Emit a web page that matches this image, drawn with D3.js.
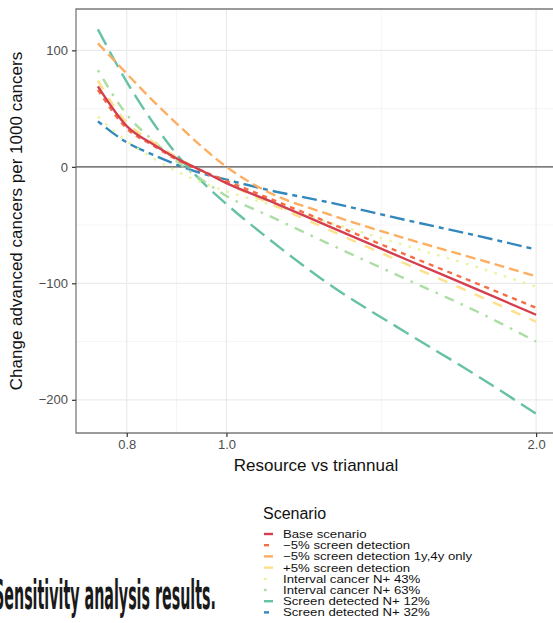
<!DOCTYPE html>
<html>
<head>
<meta charset="utf-8">
<script src="https://cdn.jsdelivr.net/npm/d3@7"></script>
<style>
  body { margin: 0; background: #fff; }
  text { font-family: 'Liberation Sans', Arial, sans-serif; }
</style>
</head>
<body>
<div id="chart"></div>
<script>
// Data (x on a log axis)
const resource = [0.75, 0.8, 0.85, 0.9, 0.95, 1.0, 1.1, 1.25, 1.5, 1.75, 2.0];

const baseScenario   = [69, 35, 19, 6, -4, -14, -29, -50, -80, -105, -127];
const minus5Screen   = [66, 33, 18, 5, -4, -12, -27, -47, -76, -100, -121];
const minus5Only1y4y = [106, 80, 56, 35, 16, 0, -22, -40, -62, -79, -94];
const plus5Screen    = [74, 38, 21, 7, -4, -14, -31, -53, -84, -110, -133];
const interval43     = [43, 22, 7, -5, -14, -21, -32, -47, -68, -86, -103];
const interval63     = [83, 45, 22, 3, -12, -25, -42, -65, -97, -124, -150];
const screen12       = [118, 73, 37, 8, -14, -32, -62, -99, -143, -179, -212];
const screen32       = [39, 21, 10, 1, -6, -11, -20, -30, -46, -59, -71];

const scenarioNames = [
  'Base scenario',
  '\u22125% screen detection',
  '\u22125% screen detection 1y,4y only',
  '+5% screen detection',
  'Interval cancer N+ 43%',
  'Interval cancer N+ 63%',
  'Screen detected N+ 12%',
  'Screen detected N+ 32%'
];
const scenarioValues = [baseScenario, minus5Screen, minus5Only1y4y, plus5Screen,
  interval43, interval63, screen12, screen32];

const xTicks = [0.8, 1.0, 2.0];
const xMinor = [Math.sqrt(0.8), Math.sqrt(2)];
const yTicks = [100, 0, -100, -200];
const yMinor = [50, -50, -150];

// Spectral palette + ggplot linetypes
const colors = ['#D53E4F', '#F46D43', '#FDAE61', '#FEE08B', '#E6F598', '#ABDDA4', '#66C2A5', '#3288BD'];
const linetypes = ['', '22', '42', '44', '13', '1343', '73', '2262'];

const width = 553;
const height = 623;
const lw = 2.4;
const unit = 2.5;
const dash = lt => lt === '' ? null : lt.split('').map(c => parseInt(c, 16) * unit).join(',');

const panel = { left: 76, right: 558, top: 9, bottom: 433 };

const svg = d3.select('#chart')
  .append('svg')
  .attr('width', width)
  .attr('height', height);

// log axis, expanded 5% on both sides like ggplot
const lo = Math.log2(0.75), hi = Math.log2(2.0);
const pad = 0.05 * (hi - lo);
const x = d3.scaleLog()
  .base(2)
  .domain([Math.pow(2, lo - pad), Math.pow(2, hi + pad)])
  .range([panel.left, panel.right]);

const y = d3.scaleLinear()
  .domain([-228.5, 135.5])
  .range([panel.bottom, panel.top]);

// grid
const grid = svg.append('g');
grid.selectAll('.xminor').data(xMinor).enter().append('line')
  .attr('x1', d => x(d)).attr('x2', d => x(d))
  .attr('y1', panel.top).attr('y2', panel.bottom)
  .attr('stroke', '#F3F3F3').attr('stroke-width', 0.8);
grid.selectAll('.yminor').data(yMinor).enter().append('line')
  .attr('x1', panel.left).attr('x2', panel.right)
  .attr('y1', d => y(d)).attr('y2', d => y(d))
  .attr('stroke', '#F3F3F3').attr('stroke-width', 0.8);
grid.selectAll('.xmajor').data(xTicks).enter().append('line')
  .attr('x1', d => x(d)).attr('x2', d => x(d))
  .attr('y1', panel.top).attr('y2', panel.bottom)
  .attr('stroke', '#EBEBEB').attr('stroke-width', 1.2);
grid.selectAll('.ymajor').data(yTicks).enter().append('line')
  .attr('x1', panel.left).attr('x2', panel.right)
  .attr('y1', d => y(d)).attr('y2', d => y(d))
  .attr('stroke', '#EBEBEB').attr('stroke-width', 1.2);

// zero line
svg.append('line')
  .attr('x1', panel.left).attr('x2', panel.right)
  .attr('y1', y(0)).attr('y2', y(0))
  .attr('stroke', '#555').attr('stroke-width', 1.1);

// curves
const line = d3.line()
  .x(d => x(d[0]))
  .y(d => y(d[1]))
  .curve(d3.curveMonotoneX);

svg.append('g')
  .selectAll('path')
  .data(scenarioValues.map((vals, i) => ({ i, pts: resource.map((r, j) => [r, vals[j]]) })).reverse())
  .enter()
  .append('path')
  .attr('d', d => line(d.pts))
  .attr('fill', 'none')
  .attr('stroke', d => colors[d.i])
  .attr('stroke-width', lw)
  .attr('stroke-dasharray', d => dash(linetypes[d.i]));

// panel border (top, left, bottom)
svg.append('path')
  .attr('d', `M${panel.right},${panel.top}H${panel.left}V${panel.bottom}H${panel.right}`)
  .attr('fill', 'none')
  .attr('stroke', '#7A7A7A')
  .attr('stroke-width', 1.3);

// axes
const yAxis = svg.append('g')
  .attr('transform', `translate(${panel.left},0)`)
  .call(d3.axisLeft(y).tickValues(yTicks).tickSize(4).tickPadding(4));
const xAxis = svg.append('g')
  .attr('transform', `translate(0,${panel.bottom})`)
  .call(d3.axisBottom(x).tickValues(xTicks).tickFormat(d3.format('.1f')).tickSize(4).tickPadding(3));
[yAxis, xAxis].forEach(a => {
  a.select('.domain').remove();
  a.selectAll('.tick line').attr('stroke', '#333').attr('stroke-width', 1.2);
  a.selectAll('.tick text')
    .attr('fill', '#4D4D4D')
    .style('font-size', '13px')
    .style('font-family', "'Liberation Sans', Arial, sans-serif");
});

// axis titles
svg.append('text')
  .attr('x', 316)
  .attr('y', 471)
  .attr('text-anchor', 'middle')
  .style('font-size', '17px')
  .attr('fill', '#111')
  .text('Resource vs triannual');

svg.append('text')
  .attr('transform', `translate(22,${(panel.top + panel.bottom) / 2}) rotate(-90)`)
  .attr('text-anchor', 'middle')
  .style('font-size', '17px')
  .attr('fill', '#111')
  .text('Change advanced cancers per 1000 cancers');

// legend
const legend = svg.append('g').attr('transform', 'translate(263,0)');
legend.append('text')
  .attr('x', 0)
  .attr('y', 519)
  .style('font-size', '16px')
  .attr('fill', '#111')
  .text('Scenario');

const rows = legend.selectAll('.row')
  .data(scenarioNames)
  .enter()
  .append('g')
  .attr('transform', (d, i) => `translate(0,${534 + i * 11.2})`);
rows.append('line')
  .attr('x1', 1).attr('x2', 10)
  .attr('stroke', (d, i) => colors[i])
  .attr('stroke-width', lw)
  .attr('stroke-dasharray', (d, i) => dash(linetypes[i]));
rows.append('text')
  .attr('transform', 'translate(20,4) scale(1.2,1)')
  .style('font-size', '11px')
  .attr('fill', '#111')
  .text(d => d);

// caption
svg.append('text')
  .attr('x', -6)
  .attr('y', 609)
  .attr('textLength', 222)
  .attr('lengthAdjust', 'spacingAndGlyphs')
  .style('font-family', "'Liberation Sans Narrow', 'DejaVu Sans Condensed', sans-serif")
  .style('font-weight', 'bold')
  .style('font-size', '40px')
  .attr('fill', '#1a1a1a')
  .text('Sensitivity analysis results.');
</script>
</body>
</html>
